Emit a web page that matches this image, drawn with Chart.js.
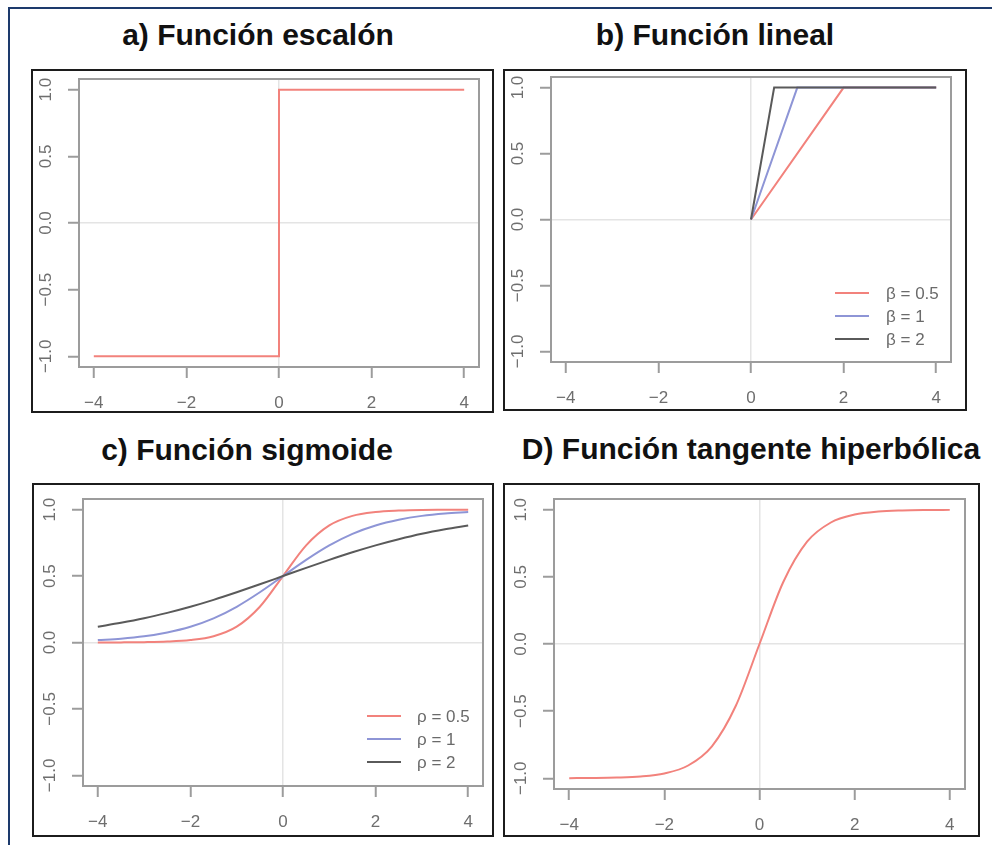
<!DOCTYPE html>
<html>
<head>
<meta charset="utf-8">
<script src="https://cdn.jsdelivr.net/npm/chart.js@4.4.1/dist/chart.umd.min.js"></script>
<style>
  html, body { margin: 0; padding: 0; background: #fff; width: 992px; height: 845px; overflow: hidden; }
  #frame { position: absolute; left: 8px; top: 7px; width: 1100px; height: 900px; border: 2.5px solid #1d3a6c; box-sizing: border-box; }
  .box { position: absolute; border: 2px solid #1c1c1c; box-sizing: border-box; }
  .title { position: absolute; font: bold 30px "Liberation Sans", Arial, sans-serif; color: #111; white-space: nowrap; transform: translate(-50%, -50%); }
  canvas { position: absolute; }
  .leg { position: absolute; font: 17px "Liberation Sans", Arial, sans-serif; color: #6a6a6a; white-space: nowrap; line-height: 1; }
  .leg span.ln { position: absolute; height: 2px; }
  .leg span.tx { position: absolute; transform: translateY(-50%); }
</style>
</head>
<body>
<div id="frame"></div>
<script>
// ---- axis ticks shared by the four panels ----
const xTicks = [-4, -2, 0, 2, 4];
const xTickLabels = ['\u22124', '\u22122', '0', '2', '4'];
const yTicks = [-1, -0.5, 0, 0.5, 1];
const yTickLabels = ['\u22121.0', '\u22120.5', '0.0', '0.5', '1.0'];

// ---- a) step function ----
const stepX = [-4, 0, 0, 4];
const stepY = [-1, -1, 1, 1];

// ---- b) linear function, one series per beta ----
const betaLabels = ['\u03b2 = 0.5', '\u03b2 = 1', '\u03b2 = 2'];
const linX05 = [0, 2, 4];
const linY05 = [0, 1, 1];
const linX1 = [0, 1, 4];
const linY1 = [0, 1, 1];
const linX2 = [0, 0.5, 4];
const linY2 = [0, 1, 1];

// ---- c) sigmoid, one series per rho ----
const rhoLabels = ['\u03c1 = 0.5', '\u03c1 = 1', '\u03c1 = 2'];
const sigX = [-4, -3.5, -3, -2.5, -2, -1.5, -1, -0.5, 0, 0.5, 1, 1.5, 2, 2.5, 3, 3.5, 4];
const sigRho05 = [0.0003, 0.0009, 0.0025, 0.0067, 0.018, 0.047, 0.119, 0.269, 0.5, 0.731, 0.881, 0.953, 0.982, 0.993, 0.998, 0.999, 1.0];
const sigRho1 = [0.018, 0.029, 0.047, 0.076, 0.119, 0.182, 0.269, 0.378, 0.5, 0.622, 0.731, 0.818, 0.881, 0.924, 0.953, 0.971, 0.982];
const sigRho2 = [0.119, 0.148, 0.182, 0.223, 0.269, 0.321, 0.378, 0.438, 0.5, 0.562, 0.622, 0.679, 0.731, 0.777, 0.818, 0.852, 0.881];

// ---- d) hyperbolic tangent ----
const tanhX = [-4, -3.5, -3, -2.5, -2, -1.5, -1, -0.5, 0, 0.5, 1, 1.5, 2, 2.5, 3, 3.5, 4];
const tanhY = [-0.999, -0.998, -0.995, -0.987, -0.964, -0.905, -0.762, -0.462, 0, 0.462, 0.762, 0.905, 0.964, 0.987, 0.995, 0.998, 0.999];

// ---- colours ----
const RED = '#f2827c';
const BLUE = '#8e95d6';
const DARK = '#5a5a5a';
const AXIS = '#9c9c9c';
const ZERO = '#e4e4e4';
const TEXT = '#6e6e6e';

const pts = (xs, ys) => xs.map((x, i) => ({ x: x, y: ys[i] }));

// panel geometry: box = outer black frame, plot = grey plotting region (page pixels)
// "order" keeps the later series drawn on top of the earlier ones
const panels = [
  {
    title: 'a) Funci\u00f3n escal\u00f3n', tx: 258, ty: 35,
    box: [31, 69, 494, 413], plot: [79, 79, 479, 367],
    datasets: [{ data: pts(stepX, stepY), borderColor: RED, tension: 0 }]
  },
  {
    title: 'b) Funci\u00f3n lineal', tx: 715, ty: 35,
    box: [503, 69, 967, 411], plot: [551, 77, 951, 362],
    datasets: [
      { label: betaLabels[0], data: pts(linX05, linY05), borderColor: RED, order: 3 },
      { label: betaLabels[1], data: pts(linX1, linY1), borderColor: BLUE, order: 2 },
      { label: betaLabels[2], data: pts(linX2, linY2), borderColor: DARK, order: 1 }
    ],
    legend: { lx: 835, tx: 886, y: 293, dy: 23 }
  },
  {
    title: 'c) Funci\u00f3n sigmoide', tx: 247, ty: 450,
    box: [32, 483, 494, 837], plot: [83, 499, 483, 786],
    datasets: [
      { label: rhoLabels[0], data: pts(sigX, sigRho05), borderColor: RED, cubicInterpolationMode: 'monotone', order: 3 },
      { label: rhoLabels[1], data: pts(sigX, sigRho1), borderColor: BLUE, cubicInterpolationMode: 'monotone', order: 2 },
      { label: rhoLabels[2], data: pts(sigX, sigRho2), borderColor: DARK, cubicInterpolationMode: 'monotone', order: 1 }
    ],
    legend: { lx: 367, tx: 417, y: 716, dy: 23 }
  },
  {
    title: 'D) Funci\u00f3n tangente hiperb\u00f3lica', tx: 751, ty: 449,
    box: [503, 483, 980, 837], plot: [554, 499, 965, 789],
    datasets: [{ data: pts(tanhX, tanhY), borderColor: RED, cubicInterpolationMode: 'monotone' }]
  }
];

// grey frame round the plotting region
const plotFrame = {
  id: 'plotFrame',
  beforeDatasetsDraw(chart) {
    const a = chart.chartArea, c = chart.ctx;
    c.save();
    c.strokeStyle = AXIS;
    c.lineWidth = 2;
    c.strokeRect(a.left, a.top, a.right - a.left, a.bottom - a.top);
    c.restore();
  }
};

const tickFont = { family: '"Liberation Sans", Arial, sans-serif', size: 17 };

panels.forEach(p => {
  const [L, T, R, B] = p.box;
  const [pl, pt, pr, pb] = p.plot;

  const box = document.createElement('div');
  box.className = 'box';
  Object.assign(box.style, { left: L + 'px', top: T + 'px', width: (R - L) + 'px', height: (B - T) + 'px' });
  document.body.appendChild(box);

  const title = document.createElement('div');
  title.className = 'title';
  title.textContent = p.title;
  Object.assign(title.style, { left: p.tx + 'px', top: p.ty + 'px' });
  document.body.appendChild(title);

  const cv = document.createElement('canvas');
  cv.width = R - L; cv.height = B - T;
  Object.assign(cv.style, { left: L + 'px', top: T + 'px', width: (R - L) + 'px', height: (B - T) + 'px' });
  document.body.appendChild(cv);

  const gridOpts = {
    color: ctx => (ctx.tick && ctx.tick.value === 0 ? ZERO : 'rgba(0,0,0,0)'),
    lineWidth: 1.5,
    tickColor: AXIS,
    tickWidth: 2,
    tickLength: 11,
    drawTicks: true
  };

  new Chart(cv, {
    type: 'scatter',
    data: {
      datasets: p.datasets.map(d => Object.assign({
        showLine: true, pointRadius: 0, borderWidth: 2, fill: false
      }, d))
    },
    options: {
      responsive: false,
      animation: false,
      devicePixelRatio: 1,
      layout: { padding: { top: pt - T, right: R - pr, left: 0, bottom: 0 } },
      plugins: { legend: { display: false }, tooltip: { enabled: false }, title: { display: false } },
      scales: {
        x: {
          type: 'linear', min: -4.32, max: 4.32,
          afterBuildTicks: s => { s.ticks = xTicks.map(v => ({ value: v })); },
          afterFit: s => { s.height = B - pb; s.paddingLeft = 0; s.paddingRight = 0; },
          grid: gridOpts,
          border: { display: false },
          ticks: {
            font: tickFont, color: TEXT, padding: 15, maxRotation: 0, minRotation: 0,
            callback: v => xTickLabels[xTicks.indexOf(v)]
          }
        },
        y: {
          type: 'linear', min: -1.08, max: 1.08,
          afterBuildTicks: s => { s.ticks = yTicks.map(v => ({ value: v })); },
          afterFit: s => { s.width = pl - L; s.paddingTop = 0; s.paddingBottom = 0; },
          grid: gridOpts,
          border: { display: false },
          ticks: {
            font: tickFont, color: TEXT, padding: 5, minRotation: 90, maxRotation: 90, crossAlign: 'center',
            callback: v => yTickLabels[yTicks.indexOf(v)]
          }
        }
      }
    },
    plugins: [plotFrame]
  });

  // legend drawn from the dataset labels and colours
  if (p.legend) {
    p.datasets.forEach((d, i) => {
      const y = p.legend.y + i * p.legend.dy;
      const wrap = document.createElement('div');
      wrap.className = 'leg';
      wrap.style.left = '0px'; wrap.style.top = '0px';
      const ln = document.createElement('span');
      ln.className = 'ln';
      Object.assign(ln.style, { left: p.legend.lx + 'px', top: (y - 1) + 'px', width: '34px', background: d.borderColor });
      const tx = document.createElement('span');
      tx.className = 'tx';
      tx.textContent = d.label;
      Object.assign(tx.style, { left: p.legend.tx + 'px', top: y + 'px' });
      wrap.appendChild(ln); wrap.appendChild(tx);
      document.body.appendChild(wrap);
    });
  }
});
</script>
</body>
</html>
